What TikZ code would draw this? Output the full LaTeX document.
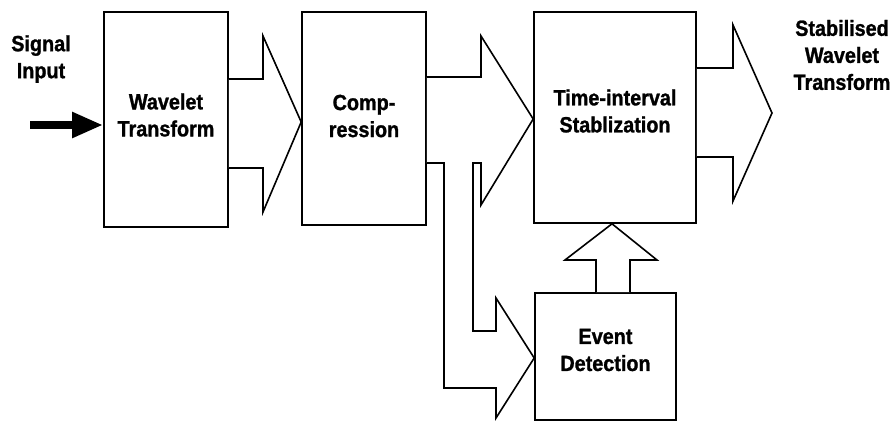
\documentclass[tikz,border=0pt]{standalone}
\usepackage{fontspec}
\usepackage{tikz}
\usetikzlibrary{arrows.meta, positioning, calc}
\newfontfamily\blkfont[FakeStretch=0.9, FakeBold=1.2]{Liberation Sans}
\tikzset{
  box/.style={rectangle, draw=black, line width=1.6pt, minimum width=124pt},
  lbl/.style={align=center, inner sep=0pt, font=\blkfont\bfseries\fontsize{22}{27}\selectfont},
  blkarr/.style={draw=black, line width=1.6pt, line join=miter, fill=white},
  inarr/.style={-{Triangle[length=31pt, width=24pt]}, line width=8pt, draw=black},
}
\begin{document}
\begin{tikzpicture}[x=1pt, y=-1pt]
  \useasboundingbox (0,0) rectangle (895,421);
  \node[box, minimum height=215pt] (wt) at (166,119.5) {};
  \node[box, minimum height=213pt] (cmp) at (364,118.5) {};
  \node[box, minimum width=162pt, minimum height=211pt] (ti) at (615,117.5) {};
  \node[box, minimum width=141pt, minimum height=127pt] (ed) at (605.5,356.5) {};
  \node[lbl] (wtl) at (166,115) {Wavelet\\Transform};
  \node[lbl] (cmpl) at (364,116) {Comp-\\ression};
  \node[lbl] (til) at (615,111) {Time-interval\\Stablization};
  \node[lbl] (edl) at (605.5,350) {Event\\Detection};
  \node[lbl] (sig) at (41,59) {Signal\\Input};
  \node[lbl] (swt) at (842,55) {Stabilised\\Wavelet\\Transform};
  \coordinate (in) at (30,125);
  \draw[inarr] (in) -- (wt.west |- in);
  \draw[blkarr] (wt.east |- 0,79) -| (263,36) -- (cmp.west |- 0,122) -- (263,212) |- (wt.east |- 0,168);
  \draw[blkarr] (cmp.east |- 0,77) -| (481,36) -- (ti.west |- 0,119) -- (481,205) |- (473,163)
    |- (496,331) -- (496,298) -- (ed.west |- 0,358) -- (496,418) |- (444,388) |- (cmp.east |- 0,163);
  \coordinate (out) at (772,113);
  \draw[blkarr] (ti.east |- 0,68) -| (733,25) -- (out) -- (733,201) |- (ti.east |- 0,157);
  \draw[blkarr] (ed.north -| 596,0) |- (565,260) -- (ti.south -| 612,0) -- (657,260) -| (ed.north -| 630,0);
\end{tikzpicture}
\end{document}
